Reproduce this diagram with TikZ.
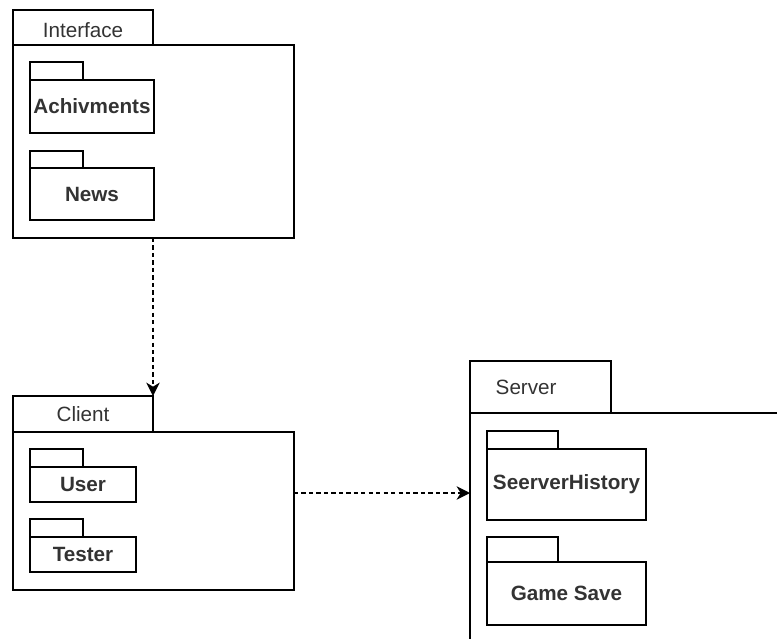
\documentclass[tikz,border=0pt]{standalone}
\usepackage{fontspec}
\setmainfont{Liberation Sans}
\usetikzlibrary{arrows.meta,calc}
\definecolor{ink}{HTML}{333333}
\tikzset{
  x=0.75pt, y=-0.75pt,
  frame/.style 2 args={draw=black, line width=1.1pt, inner sep=0pt, outer sep=0pt,
    anchor=north west, minimum width=#1*0.75pt, minimum height=#2*0.75pt},
  tablabel/.style={text=ink, font=\fontsize{15.5}{18}\selectfont},
  pkglabel/.style={text=ink, font=\fontsize{15.5}{18}\selectfont\bfseries},
  dep/.style={line width=1.1pt, dash pattern=on 3.2pt off 2.4pt,
    -{Stealth[length=10pt,width=10pt,inset=3pt]}}
}
\begin{document}
\begin{tikzpicture}
\useasboundingbox (0,0) rectangle (777,638);
\clip (0,0) rectangle (777,638);

% Interface package
\node[frame={140}{35}] (iftab) at (13,10) {};
\node[frame={281}{193}] (ifbody) at (13,45) {};
\node[tablabel] at ($(iftab.center)+(0,3)$) {Interface};
\node[frame={53}{18}] (achtab) at (30,62) {};
\node[frame={124}{53}, pkglabel] (ach) at (30,80) {Achivments};
\node[frame={53}{17}] (newstab) at (30,151) {};
\node[frame={124}{52}, pkglabel] (news) at (30,168) {News};

% Client package
\node[frame={140}{36}] (cltab) at (13,396) {};
\node[frame={281}{158}] (clbody) at (13,432) {};
\node[tablabel] at (cltab.center) {Client};
\node[frame={53}{18}] (usertab) at (30,449) {};
\node[frame={106}{35}, pkglabel] (user) at (30,467) {User};
\node[frame={53}{18}] (testtab) at (30,519) {};
\node[frame={106}{35}, pkglabel] (tester) at (30,537) {Tester};
\coordinate (clmid) at ($(cltab.north)!0.5!(clbody.south)$);

% Server package (runs past the right and bottom edges)
\node[frame={141}{52}] (svtab) at (470,361) {};
\node[frame={340}{260}] (svbody) at (470,413) {};
\node[tablabel, anchor=west] at ($(svtab.west)+(21,0)$) {Server};
\node[frame={71}{18}] (histtab) at (487,431) {};
\node[frame={159}{71}, pkglabel] (hist) at (487,449) {SeerverHistory};
\node[frame={71}{25}] (savetab) at (487,537) {};
\node[frame={159}{63}, pkglabel] (save) at (487,562) {Game Save};

% Dependencies
\draw[dep] (iftab.east |- ifbody.south) -- (cltab.north east);
\draw[dep] (clbody.east |- clmid) -- (svbody.west |- clmid);
\end{tikzpicture}
\end{document}
